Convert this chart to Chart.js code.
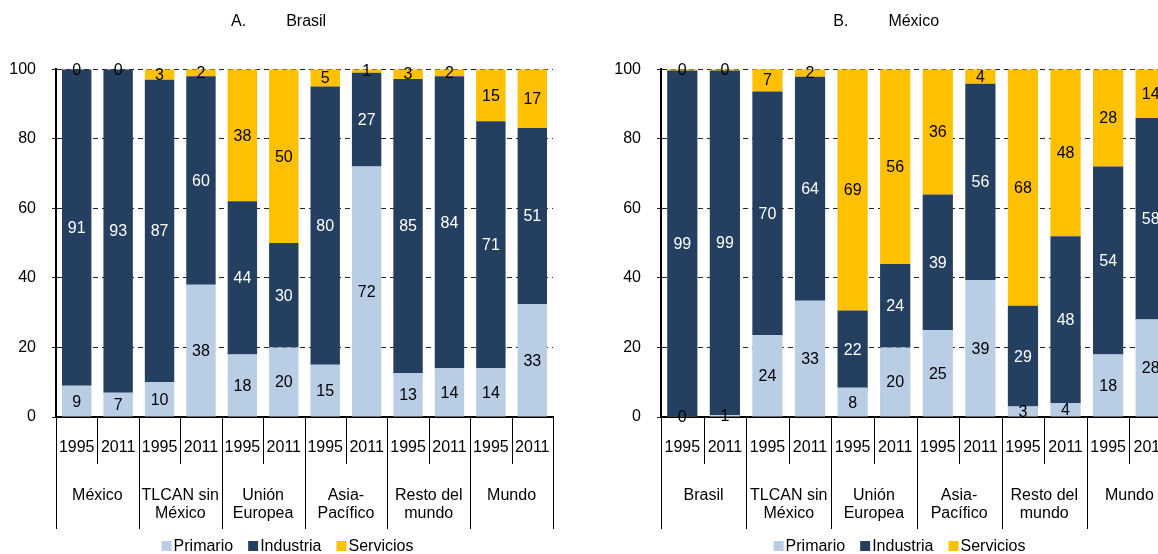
<!DOCTYPE html>
<html>
<head>
<meta charset="utf-8">
<script src="https://cdn.jsdelivr.net/npm/chart.js@4.4.1/dist/chart.umd.min.js"></script>
<style>
  html, body { margin: 0; padding: 0; background: #fff; overflow: hidden; width: 1158px; height: 554px; }
  canvas { position: absolute; top: 0; }
  #chartA { left: 0; }
  #chartB { left: 605px; }
</style>
</head>
<body>
<canvas id="chartA" width="575" height="554"></canvas>
<canvas id="chartB" width="589" height="554"></canvas>
<script>
'use strict';

var years = ['1995', '2011'];
var groupsA = ['México', ['TLCAN sin', 'México'], ['Unión', 'Europea'], ['Asia-', 'Pacífico'], ['Resto del', 'mundo'], 'Mundo'];
var groupsB = ['Brasil', ['TLCAN sin', 'México'], ['Unión', 'Europea'], ['Asia-', 'Pacífico'], ['Resto del', 'mundo'], 'Mundo'];
var seriesNames = ['Primario', 'Industria', 'Servicios'];
var yTicks = [0, 20, 40, 60, 80, 100];

// A. Brasil
var braPrimario = [9, 7, 10, 38, 18, 20, 15, 72, 12.6, 14, 14, 32.5];
var braIndustria = [91, 93, 87, 60, 44, 30, 80, 27, 84.6, 84, 71, 50.6];
var braServicios = [0, 0, 3, 2, 38, 50, 5, 1, 2.8, 2, 15, 16.9];

// B. México
var mexPrimario = [0.2, 0.6, 23.5, 33.4, 8.4, 20, 25, 39.4, 3, 4, 18, 28];
var mexIndustria = [99.4, 99, 70.1, 64.4, 22.2, 24, 39, 56.4, 29, 48, 54, 58];
var mexServicios = [0.4, 0.4, 6.6, 2.2, 69.4, 56, 36, 4.2, 68, 48, 28, 14];

var colors = ['#b9cde5', '#253f60', '#ffc000'];
var labelColors = ['#000', '#fff', '#000'];
var fontFamily = "'Liberation Sans', Arial, sans-serif";

function makeLabels(groups) {
  var out = [];
  for (var g = 0; g < groups.length; g++) {
    for (var y = 0; y < years.length; y++) {
      out.push(years[y]);
    }
  }
  return out;
}

// values written in the middle of each segment
var segmentLabels = {
  id: 'segmentLabels',
  afterDatasetsDraw: function(chart) {
    var ctx = chart.ctx;
    ctx.save();
    ctx.font = '16px ' + fontFamily;
    ctx.textAlign = 'center';
    ctx.textBaseline = 'middle';
    chart.data.datasets.forEach(function(ds, di) {
      var meta = chart.getDatasetMeta(di);
      ctx.fillStyle = labelColors[di];
      meta.data.forEach(function(bar, i) {
        var v = ds.data[i];
        var yMid = (bar.y + bar.base) / 2;
        ctx.fillText(String(Math.round(v)), bar.x, yMid + 1);
      });
    });
    ctx.restore();
  }
};

// two level category axis (years, then regions) and the legend underneath
var groupAxis = {
  id: 'groupAxis',
  afterDraw: function(chart, args, opts) {
    var ctx = chart.ctx;
    var xs = chart.scales.x;
    var bottom = chart.chartArea.bottom;
    var n = chart.data.labels.length;
    var step = (xs.right - xs.left) / n;
    ctx.save();
    ctx.fillStyle = '#000';
    ctx.strokeStyle = '#000';
    ctx.lineWidth = 1;
    ctx.font = '16px ' + fontFamily;
    ctx.textAlign = 'center';
    ctx.textBaseline = 'middle';
    for (var i = 0; i < n; i++) {
      ctx.fillText(chart.data.labels[i], xs.getPixelForValue(i), bottom + 31);
    }
    for (var j = 0; j <= n; j++) {
      var x = Math.round(xs.left + j * step) + 0.5;
      ctx.beginPath();
      ctx.moveTo(x, bottom);
      ctx.lineTo(x, j % 2 === 0 ? bottom + 112 : bottom + 47);
      ctx.stroke();
    }
    opts.groups.forEach(function(name, g) {
      var gx = xs.left + (2 * g + 1) * step;
      var lines = Array.isArray(name) ? name : [name];
      lines.forEach(function(line, k) {
        ctx.fillText(line, gx, bottom + 79 + k * 18);
      });
    });

    // legend
    var box = 10, gap = 2, spacing = 15;
    var total = 0;
    chart.data.datasets.forEach(function(ds, k) {
      total += box + gap + ctx.measureText(ds.label).width + (k > 0 ? spacing : 0);
    });
    var lx = chart.width / 2 - total / 2;
    var ly = 547;
    ctx.textAlign = 'left';
    chart.data.datasets.forEach(function(ds) {
      ctx.fillStyle = ds.backgroundColor;
      ctx.fillRect(lx, ly - box / 2 - 1, box, box);
      lx += box + gap;
      ctx.fillStyle = '#000';
      ctx.fillText(ds.label, lx, ly);
      lx += ctx.measureText(ds.label).width + spacing;
    });
    ctx.restore();
  }
};

function buildChart(id, title, groups, primario, industria, servicios) {
  var ctx = document.getElementById(id).getContext('2d');
  var values = [primario, industria, servicios];
  var datasets = [];
  for (var i = 0; i < seriesNames.length; i++) {
    datasets.push({
      label: seriesNames[i],
      data: values[i],
      backgroundColor: colors[i],
      borderWidth: 0,
      barPercentage: 0.71,
      categoryPercentage: 1.0
    });
  }
  return new Chart(ctx, {
    type: 'bar',
    data: { labels: makeLabels(groups), datasets: datasets },
    plugins: [segmentLabels, groupAxis],
    options: {
      responsive: false,
      animation: false,
      devicePixelRatio: 1,
      layout: { padding: 0 },
      plugins: {
        title: {
          display: true,
          text: title,
          color: '#000',
          font: { family: fontFamily, size: 16, weight: 'normal', lineHeight: 1.2 },
          padding: { top: 12, bottom: 38 }
        },
        legend: { display: false },
        tooltip: { enabled: false },
        groupAxis: { groups: groups }
      },
      scales: {
        x: {
          stacked: true,
          grid: { display: false },
          border: { display: true, color: '#000', width: 2 },
          ticks: { display: false },
          afterFit: function(s) { s.height = 137; }
        },
        y: {
          stacked: true,
          min: 0,
          max: 100,
          afterBuildTicks: function(s) { s.ticks = yTicks.map(function(v) { return { value: v }; }); },
          grid: { color: '#222', lineWidth: 1, tickLength: 4, drawTicks: true },
          border: { display: true, color: '#000', width: 2, dash: [5, 4] },
          ticks: { color: '#000', padding: 16, font: { family: fontFamily, size: 16 } },
          afterFit: function(s) { s.width = 56; }
        },
        pad: {
          type: 'linear',
          position: 'right',
          display: true,
          grid: { display: false },
          border: { display: false },
          ticks: { display: false },
          afterFit: function(s) { s.width = 22; }
        }
      }
    }
  });
}

buildChart('chartA', 'A.         Brasil    ', groupsA, braPrimario, braIndustria, braServicios);
buildChart('chartB', 'B.         México      ', groupsB, mexPrimario, mexIndustria, mexServicios);
</script>
</body>
</html>
